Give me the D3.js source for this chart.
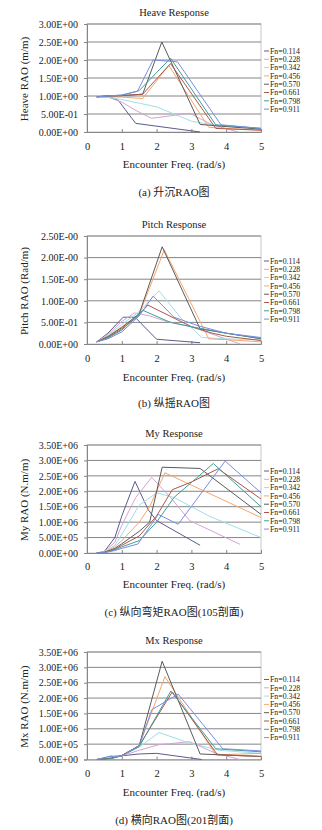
<!DOCTYPE html>
<html><head><meta charset="utf-8">
<script src="https://cdn.jsdelivr.net/npm/d3@7"></script>
<style>
body{margin:0;background:#fff;}
text{font-family:"Liberation Serif","Times New Roman",serif;fill:#222;}
.cap{font-family:"Liberation Serif","Noto Sans CJK SC",serif;}
</style></head><body>
<svg id="c" width="322" height="830"></svg>
<script>
const seriesNames = ["Fn=0.114","Fn=0.228","Fn=0.342","Fn=0.456","Fn=0.570","Fn=0.661","Fn=0.798","Fn=0.911"];
const seriesColors = ["#5e5a8e","#d4a4d4","#9ee0e4","#f6a66a","#5a5a5a","#a8584c","#3e9e9a","#7c8ce0"];
const xTicks = [0,1,2,3,4,5];

const heaveTicks = ["0.00E+00","5.00E-01","1.00E+00","1.50E+00","2.00E+00","2.50E+00","3.00E+00"];
const heaveData = [
  [[0.28,0.97],[0.6,0.98],[0.9,0.88],[1.1,0.62],[1.4,0.24],[3.25,0.0]],
  [[0.28,0.98],[0.6,0.97],[1.0,0.83],[1.4,0.6],[1.85,0.38],[2.4,0.45],[2.95,0.52],[3.6,0.2],[4.35,0]],
  [[0.28,0.98],[0.6,0.97],[1.0,0.9],[1.5,0.8],[2.0,0.7],[2.5,0.5],[3.0,0.3],[3.6,0.2],[4.2,0.15],[5,0.1]],
  [[0.28,0.98],[0.6,0.98],[1.0,0.97],[1.6,0.93],[2.35,1.85],[3.5,0.13],[4.0,0.1],[5,0.05]],
  [[0.28,0.98],[0.6,1.0],[1.0,1.01],[1.6,1.05],[2.15,2.5],[3.25,0.21],[4.0,0.15],[5,0.08]],
  [[0.28,0.98],[0.6,1.0],[1.0,1.01],[1.6,1.05],[2.4,1.9],[3.7,0.1],[5,0.05]],
  [[0.28,0.98],[0.6,1.0],[1.0,1.02],[1.5,1.15],[2.4,2.05],[3.7,0.2],[5,0.1]],
  [[0.28,0.98],[0.6,1.0],[1.0,1.03],[1.45,1.13],[1.9,2.0],[2.6,1.95],[3.85,0.2],[5,0.1]]
];

const pitchTicks = ["0.00E+00","5.00E-01","1.00E-00","1.50E-00","2.00E-00","2.50E-00"];
const pitchData = [
  [[0.28,0.05],[0.6,0.25],[1.04,0.62],[1.38,0.62],[2.0,0.11],[3.25,0.03]],
  [[0.28,0.05],[0.6,0.22],[1.0,0.52],[1.36,0.72],[1.8,0.65],[2.3,0.52],[3.0,0.4],[3.7,0.2],[4.4,0]],
  [[0.28,0.05],[0.6,0.2],[1.0,0.45],[1.5,0.75],[2.07,1.23],[2.7,0.6],[3.3,0.15],[4.0,0.12],[5,0.1]],
  [[0.28,0.05],[0.6,0.18],[1.0,0.4],[1.5,0.68],[2.22,2.18],[3.5,0.12],[4.0,0.1],[5,0.05]],
  [[0.28,0.05],[0.6,0.17],[1.0,0.38],[1.5,0.7],[2.16,2.25],[3.25,0.35],[4.0,0.25],[5,0.12]],
  [[0.28,0.05],[0.6,0.15],[1.0,0.35],[1.4,0.6],[1.75,0.9],[2.5,0.6],[3.0,0.4],[3.6,0.25],[4.0,0.18],[5,0.08]],
  [[0.28,0.05],[0.6,0.14],[1.0,0.32],[1.6,0.78],[2.4,0.5],[3.0,0.4],[4.0,0.25],[5,0.13]],
  [[0.28,0.05],[0.6,0.12],[1.0,0.28],[1.5,0.65],[1.9,1.11],[2.5,0.62],[3.2,0.42],[4.0,0.25],[5,0.15]]
];

const momentTicks = ["0.00E+00","5.00E+05","1.00E+06","1.50E+06","2.00E+06","2.50E+06","3.00E+06","3.50E+06"];
const myData = [
  [[0.28,0],[0.5,0.05],[0.8,0.5],[1.0,1.2],[1.38,2.32],[1.76,1.4],[2.0,1.05],[3.25,0.25]],
  [[0.28,0],[0.5,0.04],[0.8,0.35],[1.0,0.9],[1.4,1.8],[1.86,2.45],[2.4,1.8],[2.95,1.05],[4.4,0.28]],
  [[0.28,0],[0.5,0.03],[0.8,0.25],[1.0,0.6],[1.5,1.55],[2.0,1.95],[2.5,1.8],[3.5,1.2],[5,0.5]],
  [[0.28,0],[0.5,0.02],[0.8,0.2],[1.0,0.4],[1.5,1.0],[1.8,1.5],[2.24,2.6],[3.0,2.2],[5,1.15]],
  [[0.28,0],[0.5,0.02],[0.8,0.15],[1.0,0.3],[1.5,0.7],[1.8,1.0],[2.16,2.78],[3.25,2.74],[5,1.25]],
  [[0.28,0],[0.5,0.02],[0.8,0.12],[1.0,0.25],[1.5,0.55],[2.0,1.2],[2.45,2.05],[3.0,2.3],[3.77,2.73],[5,1.75]],
  [[0.28,0],[0.5,0.01],[0.8,0.1],[1.0,0.2],[1.5,0.4],[2.0,1.0],[2.5,1.8],[3.63,2.9],[5,1.5]],
  [[0.28,0],[0.5,0.01],[0.8,0.08],[1.0,0.15],[1.46,0.29],[2.05,1.25],[2.62,0.93],[3.97,2.98],[5,1.95]]
];

const mxData = [
  [[0.28,0],[0.7,0.1],[1.0,0.12],[1.5,0.18],[2.0,0.2],[3.3,0.0]],
  [[0.28,0],[0.7,0.08],[1.0,0.12],[1.5,0.3],[2.05,0.48],[2.95,0.58],[3.7,0.2],[4.4,0]],
  [[0.28,0],[0.7,0.07],[1.0,0.13],[1.5,0.4],[2.07,0.88],[2.9,0.55],[3.8,0.3],[5,0.2]],
  [[0.28,0],[0.7,0.05],[1.0,0.13],[1.5,0.45],[2.24,2.7],[3.7,0.15],[5,0.2]],
  [[0.28,0],[0.7,0.04],[1.0,0.13],[1.5,0.45],[2.16,3.2],[3.25,0.18],[5,0.1]],
  [[0.28,0],[0.7,0.04],[1.0,0.13],[1.5,0.45],[2.45,2.2],[3.75,0.15],[5,0.1]],
  [[0.28,0],[0.7,0.03],[1.0,0.12],[1.5,0.42],[2.41,2.23],[3.7,0.35],[5,0.25]],
  [[0.28,0],[0.7,0.12],[0.8,0.08],[1.0,0.12],[1.5,0.45],[1.86,1.62],[2.62,2.13],[3.9,0.35],[5,0.28]]
];

const panels = [
  {title:"Heave Response", ylab:"Heave RAO (m/m)", cap:"(a) 升沉RAO图", top:24, bottom:132, ymax:3.0, step:0.5, ticks:heaveTicks, data:heaveData, titleY:12.5, tickY:146, xtY:164, capY:192.5, legY:51},
  {title:"Pitch Response", ylab:"Pitch RAO (Rad/m)", cap:"(b) 纵摇RAO图", top:236, bottom:344, ymax:2.5, step:0.5, ticks:pitchTicks, data:pitchData, titleY:224.5, tickY:358, xtY:377, capY:403, legY:261},
  {title:"My Response", ylab:"My RAO (N.m/m)", cap:"(c) 纵向弯矩RAO图(105剖面)", top:445, bottom:553, ymax:3.5, step:0.5, ticks:momentTicks, data:myData, titleY:433, tickY:566, xtY:584.5, capY:612, legY:471},
  {title:"Mx Response", ylab:"Mx RAO (N.m/m)", cap:"(d) 横向RAO图(201剖面)", top:652, bottom:759.5, ymax:3.5, step:0.5, ticks:momentTicks, data:mxData, titleY:640, tickY:773, xtY:792, capY:820, legY:679.5}
];

const svg = d3.select("#c");
const L = 87, R = 261;

panels.forEach(p => {
  const g = svg.append("g");
  const x = d3.scaleLinear().domain([0,5]).range([L,R]);
  const y = d3.scaleLinear().domain([0,p.ymax]).range([p.bottom,p.top]);
  const yVals = d3.range(0, p.ymax + 1e-9, p.step);

  // plot border
  g.append("rect").attr("x",L).attr("y",p.top).attr("width",R-L).attr("height",p.bottom-p.top)
    .attr("fill","none").attr("stroke","#c8c8c8").attr("stroke-width",1);
  // gridlines
  g.selectAll(".grid").data(yVals.slice(1)).enter().append("line")
    .attr("x1",L).attr("x2",R).attr("y1",d=>y(d)).attr("y2",d=>y(d))
    .attr("stroke","#858585").attr("stroke-width",1);
  // y axis
  const ya = d3.axisLeft(y).tickValues(yVals).tickSize(3).tickFormat((d,i)=>p.ticks[i]);
  const yg = g.append("g").attr("transform",`translate(${L},0)`).call(ya);
  yg.select(".domain").attr("stroke","#858585");
  yg.selectAll(".tick line").attr("stroke","#858585");
  yg.selectAll(".tick text").attr("x",-9).attr("font-size","10px").attr("fill","#222")
    .attr("font-family","Liberation Serif");
  // x axis
  const xa = d3.axisBottom(x).tickValues(xTicks).tickSize(-3).tickFormat(d3.format("d"));
  const xg = g.append("g").attr("transform",`translate(0,${p.bottom})`).call(xa);
  xg.select(".domain").attr("stroke","#858585");
  xg.selectAll(".tick line").attr("stroke","#858585");
  xg.selectAll(".tick text").attr("y",p.tickY-p.bottom).attr("dy","0.35em").attr("font-size","10.5px")
    .attr("fill","#222").attr("font-family","Liberation Serif");

  // lines
  const line = d3.line().x(d=>x(d[0])).y(d=>y(d[1]));
  p.data.forEach((s,i)=>{
    g.append("path").attr("d",line(s)).attr("fill","none")
      .attr("stroke",seriesColors[i]).attr("stroke-width",1);
  });

  // titles
  g.append("text").attr("x",174).attr("y",p.titleY).attr("dy","0.35em").attr("text-anchor","middle")
    .attr("font-size","10.5px").text(p.title);
  g.append("text").attr("transform",`translate(24,${(p.top+p.bottom)/2+1}) rotate(-90)`)
    .attr("dy","0.35em").attr("text-anchor","middle").attr("font-size","11px").text(p.ylab);
  g.append("text").attr("x",174).attr("y",p.xtY).attr("dy","0.35em").attr("text-anchor","middle")
    .attr("font-size","11px").text("Encounter Freq. (rad/s)");
  g.append("text").attr("class","cap").attr("x",174).attr("y",p.capY).attr("dy","0.35em").attr("text-anchor","middle")
    .attr("font-size","11px").text(p.cap);

  // legend
  seriesNames.forEach((n,i)=>{
    const ly = p.legY + i*8.3;
    g.append("line").attr("x1",264).attr("x2",269).attr("y1",ly).attr("y2",ly)
      .attr("stroke",seriesColors[i]).attr("stroke-width",1);
    g.append("text").attr("x",270).attr("y",ly).attr("dy","0.35em").attr("font-size","7.8px").text(n);
  });
});
</script>
</body></html>
